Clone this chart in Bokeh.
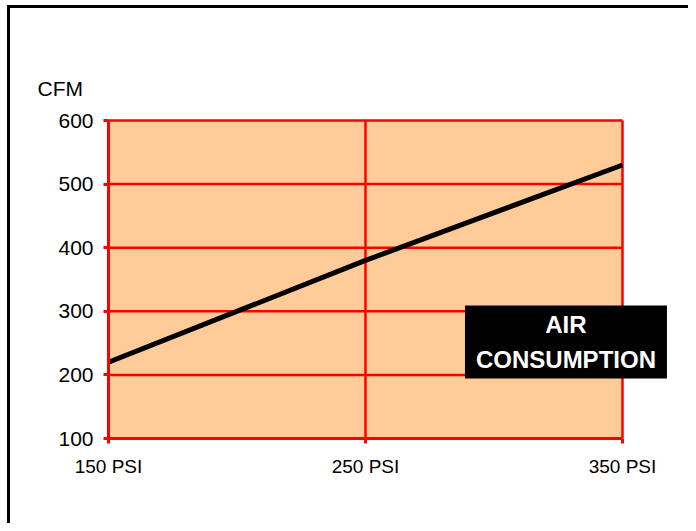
from bokeh.plotting import figure
from bokeh.models import Label, FixedTicker
from bokeh.embed import file_html
from bokeh.resources import INLINE

# Data
psi = [150, 250, 350]
cfm = [220, 380, 530]
x_ticks = [150, 250, 350]
x_tick_labels = ["150 PSI", "250 PSI", "350 PSI"]
y_ticks = [100, 200, 300, 400, 500, 600]
y_axis_title = "CFM"
box_title = "AIR\nCONSUMPTION"

FONT = "Liberation Sans"
RED = "#FF0000"
ORANGE = "#FFCC99"

x0, x1 = x_ticks[0], x_ticks[-1]
y0, y1 = y_ticks[0], y_ticks[-1]

# frame geometry (pixels): the 150-350 span is 514 px, the 100-600 span is 318 px
SPAN_W, SPAN_H = 514, 318
FRAME_W, FRAME_H = 578, 321
x_end = x0 + (x1 - x0) * FRAME_W / SPAN_W
y_end = y0 + (y1 - y0) * FRAME_H / SPAN_H

p = figure(output_backend="svg", toolbar_location=None,
           x_range=(x0, x_end), y_range=(y0, y_end),
           frame_width=FRAME_W, frame_height=FRAME_H,
           min_border_left=98, min_border_right=2,
           min_border_top=109, min_border_bottom=85)
p.styles = {"margin-left": "7px", "margin-top": "5px",
            "border-left": "3px solid black", "border-top": "3px solid black"}

p.background_fill_color = "white"
p.border_fill_color = "white"
p.outline_line_color = None
p.xgrid.visible = False
p.ygrid.visible = False

p.title.text = y_axis_title
p.title.align = "left"
p.title.offset = -71
p.title.text_font = FONT
p.title.text_font_size = "21px"
p.title.text_font_style = "normal"
p.title.text_color = "black"
p.title.standoff = 36

for ax in (p.xaxis, p.yaxis):
    ax.axis_line_color = RED
    ax.axis_line_width = 3
    ax.major_tick_line_color = RED
    ax.major_tick_line_width = 3
    ax.major_tick_out = 5
    ax.major_tick_in = 0
    ax.minor_tick_line_color = None
    ax.major_label_text_font = FONT
    ax.major_label_text_color = "black"

p.xaxis.bounds = (x0, x1)
p.yaxis.bounds = (y0, y1)
p.xaxis.ticker = FixedTicker(ticks=x_ticks)
p.xaxis.major_label_overrides = {t: l for t, l in zip(x_ticks, x_tick_labels)}
p.xaxis.major_label_text_font_size = "19px"
p.xaxis.major_label_standoff = 12
p.yaxis.ticker = FixedTicker(ticks=y_ticks)
p.yaxis.major_label_text_font_size = "21px"
p.yaxis.major_label_standoff = 10

# plot area background
p.quad(left=[x0], right=[x1], bottom=[y0], top=[y1],
       fill_color=ORANGE, line_color=None)

# grid lines limited to the plot area
p.segment(x0=x_ticks, y0=[y0] * len(x_ticks), x1=x_ticks, y1=[y1] * len(x_ticks),
          line_color=RED, line_width=2.5)
p.segment(x0=[x0] * len(y_ticks), y0=y_ticks, x1=[x1] * len(y_ticks), y1=y_ticks,
          line_color=RED, line_width=2.5)

p.line(psi, cfm, line_color="black", line_width=5)

p.add_layout(Label(x=328, y=251.7, text=box_title, text_font=FONT,
                   text_font_size="24px", text_font_style="bold",
                   text_color="white", text_align="center",
                   text_baseline="middle", text_line_height=1.33,
                   background_fill_color="black",
                   padding=dict(left=11, right=11, top=5, bottom=5)))

open("out.html", "w").write(file_html(p, INLINE))
